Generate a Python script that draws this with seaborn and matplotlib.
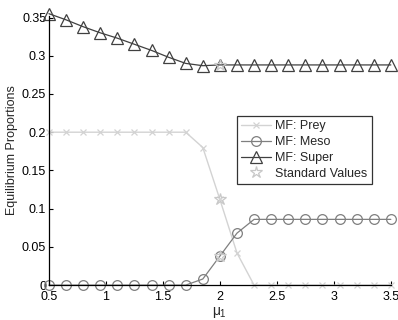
import numpy as np
import pandas as pd
import matplotlib
matplotlib.use("Agg")
import matplotlib.pyplot as plt
import seaborn as sns

mu1 = [0.5, 0.65, 0.8, 0.95, 1.1, 1.25, 1.4, 1.55, 1.7, 1.85, 2.0,
       2.15, 2.3, 2.45, 2.6, 2.75, 2.9, 3.05, 3.2, 3.35, 3.5]
prey = [0.2, 0.2, 0.2, 0.2, 0.2, 0.2, 0.2, 0.2, 0.2, 0.18, 0.112,
        0.042, 0.0, 0.0, 0.0, 0.0, 0.0, 0.0, 0.0, 0.0, 0.0]
meso = [0.0, 0.0, 0.0, 0.0, 0.0, 0.0, 0.0, 0.0, 0.0, 0.008, 0.038,
        0.068, 0.086, 0.086, 0.086, 0.086, 0.086, 0.086, 0.086, 0.086, 0.086]
super_ = [0.355, 0.347, 0.338, 0.330, 0.323, 0.315, 0.307, 0.298, 0.290, 0.287, 0.288,
          0.288, 0.288, 0.288, 0.288, 0.288, 0.288, 0.288, 0.288, 0.288, 0.288]
std_mu = [2.0, 2.0, 2.0]
std_vals = [0.112, 0.038, 0.288]

xticks = [0.5, 1, 1.5, 2, 2.5, 3, 3.5]
xticklabels = ["0.5", "1", "1.5", "2", "2.5", "3", "3.5"]
yticks = [0, 0.05, 0.1, 0.15, 0.2, 0.25, 0.3, 0.35]
yticklabels = ["0", "0.05", "0.1", "0.15", "0.2", "0.25", "0.3", "0.35"]

sns.set_theme(style="white")
plt.rcParams['font.family'] = ['Liberation Sans', 'DejaVu Sans']
plt.rcParams['mathtext.fontset'] = 'custom'
plt.rcParams['mathtext.rm'] = 'Liberation Sans'
plt.rcParams['mathtext.it'] = 'Liberation Sans'

fig = plt.figure(figsize=(3.98, 3.2), dpi=100)
ax = fig.add_axes([0.123, 0.109, 0.859, 0.841])

df = pd.DataFrame({"mu": mu1, "prey": prey, "meso": meso, "super": super_})

c_prey = "#d3d3d3"
c_meso = "#7f7f7f"
c_super = "#404040"
c_std = "#c8c8c8"

sns.lineplot(data=df, x="mu", y="prey", ax=ax, color=c_prey, lw=1.0,
             marker="x", markersize=5, markeredgecolor=c_prey, markerfacecolor="none",
             markeredgewidth=0.9, label="MF: Prey", clip_on=False)
sns.lineplot(data=df, x="mu", y="meso", ax=ax, color=c_meso, lw=0.9,
             marker="o", markersize=7, markeredgecolor=c_meso, markerfacecolor="none",
             markeredgewidth=0.9, label="MF: Meso", clip_on=False)
sns.lineplot(data=df, x="mu", y="super", ax=ax, color=c_super, lw=0.9,
             marker="^", markersize=9, markeredgecolor=c_super, markerfacecolor="none",
             markeredgewidth=0.9, label="MF: Super", clip_on=False)
ax.plot(std_mu, std_vals, linestyle="none", marker="*", markersize=9,
        markeredgecolor=c_std, markerfacecolor="none", markeredgewidth=0.9,
        label="Standard Values", clip_on=False, zorder=5)

ax.set_xlim(0.5, 3.5)
ax.set_ylim(0, 0.352)
ax.set_xticks(xticks)
ax.set_xticklabels(xticklabels)
ax.set_yticks(yticks)
ax.set_yticklabels(yticklabels)
ax.tick_params(direction="in", length=3, width=0.8, labelsize=9,
               bottom=True, left=True, colors="black")
ax.tick_params(axis="x", pad=4.5)
ax.tick_params(axis="y", pad=2)
for s in ["top", "right"]:
    ax.spines[s].set_visible(False)
for s in ["left", "bottom"]:
    ax.spines[s].set_color("black")
    ax.spines[s].set_linewidth(0.9)

ax.set_xlabel(r"$\mu_1$", fontsize=10, labelpad=1)
ax.set_ylabel("Equilibrium Proportions", fontsize=9, labelpad=3)

leg = ax.legend(loc="upper left", bbox_to_anchor=(0.55, 0.628), borderaxespad=0,
                fontsize=9, frameon=True, fancybox=False, handlelength=2.4,
                handletextpad=0.3, borderpad=0.35, labelspacing=0.3)
leg.get_frame().set_edgecolor("black")
leg.get_frame().set_linewidth(0.9)

fig.savefig("out.png", dpi=100)
